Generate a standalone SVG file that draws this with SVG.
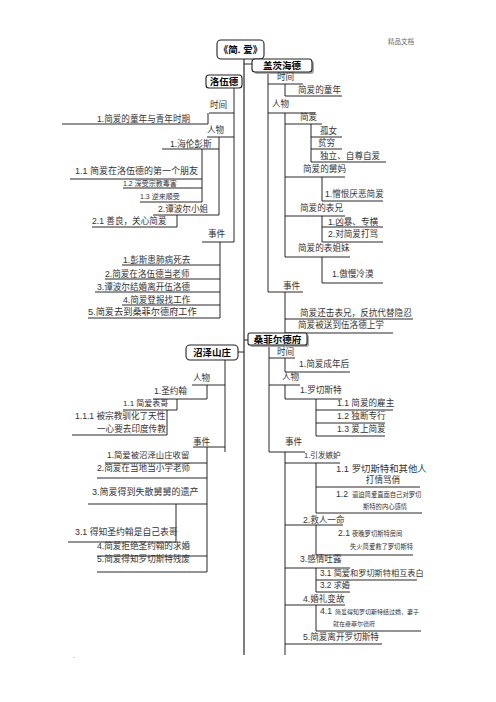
<svg xmlns="http://www.w3.org/2000/svg" width="496" height="702" viewBox="0 0 496 702">
<style>
text{font-family:"Liberation Sans","Noto Sans CJK SC",sans-serif;fill:#333;font-size:8.6px}
.s{font-size:6.3px}
.b{font-weight:bold;fill:#000;font-size:9.5px;text-anchor:middle}
.h{font-size:6.5px;fill:#666}
.u{stroke:#111;stroke-width:0.9;fill:none}
.c{stroke:#111;stroke-width:0.9;fill:none}
.box{fill:#fff;stroke:#222;stroke-width:1.1}
.sh{fill:#aaa}
</style>
<rect width="496" height="702" fill="#fff"/>
<text class="h" x="388" y="44">精品文档</text>
<text class="h" x="73" y="658">.</text>

<g id="connectors">
<path d="M244 59V655" stroke="#555" stroke-width="1.5" fill="none"/>
<path class="c" d="M244 64H252M238 352H244M244 340H248"/>
<!-- 洛伍德 -->
<path class="c" d="M234 88V242M208 113V124M219 137V215M202 149V202M177 215V227M220 242V318"/>
<!-- 盖茨海德 -->
<path class="c" d="M268 72V292M285 84V96M285 113V257M311 124V162M322 177V201M322 216V242M322 257V283M285 292V333"/>
<!-- 桑菲尔德府 -->
<path class="c" d="M269 345V452M285 358V372M285 385V399M316 399V436M285 452V655M316 463V513M316 525V555M316 568V592M316 605V631"/>
<!-- 沼泽山庄 -->
<path class="c" d="M225 360V452M207 385V399M177 399V410M167 410V435M207 447V572M176 504V542"/>
</g>

<g id="root">
<rect class="box" x="217" y="40" width="47" height="19" rx="4"/>
<text class="b" x="240.5" y="53">《简. 爱》</text>
</g>

<g id="gateshead">
<rect class="sh" x="254" y="61" width="60" height="13" rx="3"/>
<rect class="box" x="252" y="59" width="60" height="13" rx="3"/>
<text class="b" x="282" y="69">盖茨海德</text>
</g>
<g id="g-time"><text x="277" y="80">时间</text><path class="u" d="M268 84H303"/></g>
<g id="g-time1"><text x="298" y="93">简爱的童年</text><path class="u" d="M285 96H342"/></g>
<g id="g-people"><text x="272" y="107">人物</text><path class="u" d="M268 113H315"/></g>
<g id="g-jane"><text x="300" y="120">简爱</text><path class="u" d="M285 124H322"/></g>
<g id="g-jane1"><text x="320" y="134">孤女</text><path class="u" d="M311 137H342"/></g>
<g id="g-jane2"><text x="318" y="146">贫穷</text><path class="u" d="M311 149H342"/></g>
<g id="g-jane3"><text x="320" y="159">独立、自尊自爱</text><path class="u" d="M311 162H386"/></g>
<g id="g-aunt"><text x="303" y="172">简爱的舅妈</text><path class="u" d="M285 177H345"/></g>
<g id="g-aunt1"><text x="325" y="197">1.憎恨厌恶简爱</text><path class="u" d="M322 201H383"/></g>
<g id="g-cousin"><text x="300" y="211">简爱的表兄</text><path class="u" d="M285 216H345"/></g>
<g id="g-cousin1"><text x="328" y="225">1.凶暴、专横</text><path class="u" d="M322 227H383"/></g>
<g id="g-cousin2"><text x="328" y="237">2.对简爱打骂</text><path class="u" d="M322 242H383"/></g>
<g id="g-sisters"><text x="298" y="251">简爱的表姐妹</text><path class="u" d="M285 257H350"/></g>
<g id="g-sisters1"><text x="332" y="277">1.傲慢冷漠</text><path class="u" d="M322 283H383"/></g>
<g id="g-events"><text x="283" y="289">事件</text><path class="u" d="M268 292H303"/></g>
<g id="g-ev1"><text x="300" y="316">简爱还击表兄，反抗代替隐忍</text><path class="u" d="M285 319H413"/></g>
<g id="g-ev2"><text x="298" y="328">简爱被送到伍洛德上学</text><path class="u" d="M285 333H393"/></g>

<g id="lowood">
<rect class="box" x="206" y="75" width="36" height="13" rx="3"/>
<text class="b" x="224" y="85">洛伍德</text>
</g>
<g id="l-time"><text x="210" y="108">时间</text><path class="u" d="M209 113H234"/></g>
<g id="l-time1"><text x="97" y="122">1.简爱的童年与青年时期</text><path class="u" d="M62 124H208"/></g>
<g id="l-people"><text x="207" y="133">人物</text><path class="u" d="M207 137H234"/></g>
<g id="l-helen"><text x="170" y="147">1.海伦彭斯</text><path class="u" d="M162 149H219"/></g>
<g id="l-helen1"><text x="75" y="174" style="font-size:9px">1.1 简爱在洛伍德的第一个朋友</text><path class="u" d="M70 179H202"/></g>
<g id="l-helen2"><text x="123" y="186" style="font-size:7px">1.2 深受宗教毒害</text><path class="u" d="M123 188H202"/></g>
<g id="l-helen3"><text x="140" y="199" style="font-size:7px">1.3 逆来顺受</text><path class="u" d="M140 202H202"/></g>
<g id="l-temple"><text x="158" y="212">2.谭波尔小姐</text><path class="u" d="M153 215H219"/></g>
<g id="l-temple1"><text x="92" y="224">2.1 善良，关心简爱</text><path class="u" d="M92 227H177"/></g>
<g id="l-events"><text x="208" y="237">事件</text><path class="u" d="M202 242H234"/></g>
<g id="l-ev1"><text x="123" y="263">1.彭斯患肺病死去</text><path class="u" d="M122 265H220"/></g>
<g id="l-ev2"><text x="105" y="277">2.简爱在洛伍德当老师</text><path class="u" d="M105 279H220"/></g>
<g id="l-ev3"><text x="97" y="290">3.谭波尔结婚离开伍洛德</text><path class="u" d="M95 292H220"/></g>
<g id="l-ev4"><text x="123" y="303">4.简爱登报找工作</text><path class="u" d="M122 305H220"/></g>
<g id="l-ev5"><text x="88" y="315" style="font-size:9.2px">5.简爱去到桑菲尔德府工作</text><path class="u" d="M88 318H220"/></g>

<g id="thornfield">
<rect class="sh" x="250" y="335" width="59" height="12" rx="2"/>
<rect class="box" x="248" y="333" width="59" height="12" rx="2"/>
<text class="b" x="277.5" y="343">桑菲尔德府</text>
</g>
<g id="t-time"><text x="277" y="355">时间</text><path class="u" d="M269 358H295"/></g>
<g id="t-time1"><text x="299" y="367">1.简爱成年后</text><path class="u" d="M285 372H350"/></g>
<g id="t-people"><text x="282" y="380">人物</text><path class="u" d="M269 385H300"/></g>
<g id="t-roch"><text x="300" y="393">1.罗切斯特</text><path class="u" d="M285 399H342"/></g>
<g id="t-roch1"><text x="337" y="406">1.1 简爱的雇主</text><path class="u" d="M316 410H393"/></g>
<g id="t-roch2"><text x="337" y="419">1.2 独断专行</text><path class="u" d="M316 423H385"/></g>
<g id="t-roch3"><text x="337" y="432">1.3 爱上简爱</text><path class="u" d="M316 436H385"/></g>
<g id="t-events"><text x="285" y="445">事件</text><path class="u" d="M269 452H305"/></g>
<g id="t-ev1"><text x="304" y="458" style="font-size:7.6px">1.引发嫉妒</text><path class="u" d="M285 463H340"/></g>
<g id="t-ev11"><text x="336" y="472" style="font-size:9.4px">1.1 罗切斯特和其他人</text><text x="383" y="483" style="font-size:8.6px;text-anchor:middle">打情骂俏</text><path class="u" d="M316 487H420"/></g>
<g id="t-ev12"><text x="336" y="497">1.2 <tspan class="s" x="352">逼迫简爱直面自己对罗切</tspan></text><text class="s" x="363" y="509">斯特的内心感情</text><path class="u" d="M316 513H422"/></g>
<g id="t-ev2"><text x="303" y="523">2.救人一命</text><path class="u" d="M285 525H343"/></g>
<g id="t-ev21"><text x="338" y="536">2.1 <tspan class="s" x="352">夜晚罗切斯特房间</tspan></text><text class="s" x="350" y="549">失火简爱救了罗切斯特</text><path class="u" d="M316 555H413"/></g>
<g id="t-ev3"><text x="300" y="562">3.感情吐露</text><path class="u" d="M285 568H350"/></g>
<g id="t-ev31"><text x="320" y="576" style="font-size:8.2px">3.1 简爱和罗切斯特相互表白</text><path class="u" d="M316 580H417"/></g>
<g id="t-ev32"><text x="320" y="588" style="font-size:8.2px">3.2 求婚</text><path class="u" d="M316 592H350"/></g>
<g id="t-ev4"><text x="303" y="602">4.婚礼变故</text><path class="u" d="M285 605H345"/></g>
<g id="t-ev41"><text x="320" y="614">4.1 <tspan class="s" x="335" style="font-size:6px">简爱得知罗切斯特结过婚，妻子</tspan></text><text class="s" x="333" y="626" style="font-size:6px">就在桑菲尔德府</text><path class="u" d="M316 631H421"/></g>
<g id="t-ev5"><text x="303" y="640">5.简爱离开罗切斯特</text><path class="u" d="M285 644H382"/></g>

<g id="moor">
<rect class="box" x="186" y="345" width="52" height="15" rx="4"/>
<text class="b" x="212" y="356">沼泽山庄</text>
</g>
<g id="m-people"><text x="193" y="381">人物</text><path class="u" d="M192 385H225"/></g>
<g id="m-john"><text x="154" y="394">1.圣约翰</text><path class="u" d="M153 399H207"/></g>
<g id="m-john1"><text x="123" y="406" style="font-size:8px">1.1 简爱表哥</text><path class="u" d="M123 410H177"/></g>
<g id="m-john11"><text x="75" y="419">1.1.1 被宗教驯化了天性</text><text x="97" y="432">一心要去印度传教</text><path class="u" d="M72 435H167"/></g>
<g id="m-events"><text x="193" y="445">事件</text><path class="u" d="M193 447H225"/></g>
<g id="m-ev1"><text x="107" y="458" style="font-size:8.4px">1.简爱被沼泽山庄收留</text><path class="u" d="M105 463H207"/></g>
<g id="m-ev2"><text x="97" y="471">2.简爱在当地当小学老师</text><path class="u" d="M97 478H207"/></g>
<g id="m-ev3"><text x="92" y="495" style="font-size:9px">3.简爱得到失散舅舅的遗产</text><path class="u" d="M88 504H207"/></g>
<g id="m-ev31"><text x="75" y="535" style="font-size:8.8px">3.1 得知圣约翰是自己表哥</text><path class="u" d="M68 542H176"/></g>
<g id="m-ev4"><text x="97" y="549">4.简爱拒绝圣约翰的求婚</text><path class="u" d="M97 556H207"/></g>
<g id="m-ev5"><text x="97" y="562">5.简爱得知罗切斯特残废</text><path class="u" d="M97 572H207"/></g>
</svg>
